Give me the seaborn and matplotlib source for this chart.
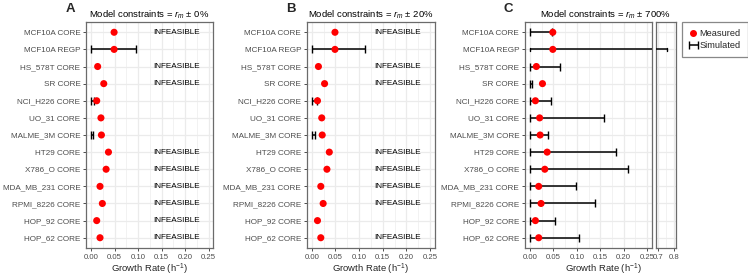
import numpy as np
import pandas as pd
import matplotlib
matplotlib.use("Agg")
import matplotlib.pyplot as plt
import seaborn as sns
from matplotlib.lines import Line2D

cells = ["MCF10A CORE", "MCF10A REGP", "HS_578T CORE", "SR CORE", "NCI_H226 CORE",
         "UO_31 CORE", "MALME_3M CORE", "HT29 CORE", "X786_O CORE", "MDA_MB_231 CORE",
         "RPMI_8226 CORE", "HOP_92 CORE", "HOP_62 CORE"]
measured = [0.049, 0.049, 0.014, 0.027, 0.012, 0.021, 0.022, 0.037, 0.032, 0.019, 0.024, 0.012, 0.019]

nan = np.nan
# simulated ranges (min, max); NaN = no range drawn
simA_lo = [nan, 0.0, nan, nan, 0.0, nan, 0.0, nan, nan, nan, nan, nan, nan]
simA_hi = [nan, 0.095, nan, nan, 0.007, nan, 0.005, nan, nan, nan, nan, nan, nan]
infA = [True, False, True, True, False, False, False, True, True, True, True, True, True]

simB_lo = [nan, 0.0, nan, nan, 0.0, nan, 0.0, nan, nan, nan, nan, nan, nan]
simB_hi = [nan, 0.113, nan, nan, 0.010, nan, 0.007, nan, nan, nan, nan, nan, nan]
infB = [True, False, True, True, False, False, False, True, True, True, True, False, True]

simC_lo = [0.0] * 13
simC_hi = [0.048, 0.755, 0.064, 0.005, 0.045, 0.159, 0.039, 0.183, 0.210, 0.099, 0.138, 0.053, 0.105]
infC = [False] * 13

titles = [r"Model constraints = $r_m$ ± 0%", r"Model constraints = $r_m$ ± 20%",
          r"Model constraints = $r_m$ ± 700%"]
panel_letters = ["A", "B", "C"]
xticks = [0.00, 0.05, 0.10, 0.15, 0.20, 0.25]
xticklabels = ["0.00", "0.05", "0.10", "0.15", "0.20", "0.25"]
break_ticks = [0.7, 0.8]
break_ticklabels = ["0.7", "0.8"]

sns.set_theme(style="white")
plt.rcParams["font.family"] = ["Liberation Sans", "DejaVu Sans"]
plt.rcParams["mathtext.fontset"] = "custom"
plt.rcParams["mathtext.rm"] = "Liberation Sans"
plt.rcParams["mathtext.it"] = "Liberation Sans:italic"

W, H = 748, 276
fig = plt.figure(figsize=(W / 100, H / 100), dpi=100)


def box(l, r, t, b):
    return [l / W, 1 - b / H, (r - l) / W, (b - t) / H]


GRID = "#EBEBEB"
BORDER = "#6b6b6b"
TICKC = "#4D4D4D"
FSY = 5.9
FSX = 5.6


def style_axes(ax, xlim, ticks, ticklabels, minor, show_y=True):
    ax.set_xlim(*xlim)
    ax.set_ylim(len(cells) - 1 + 0.6, -0.6)
    ax.set_xticks(ticks)
    ax.set_xticklabels(ticklabels, fontsize=FSX, color=TICKC)
    ax.set_xticks(minor, minor=True)
    ax.set_yticks(range(len(cells)))
    if show_y:
        ax.set_yticklabels(cells, fontsize=FSY, color=TICKC)
    else:
        ax.set_yticklabels([])
        ax.tick_params(axis="y", length=0)
    ax.set_xlabel("")
    ax.set_ylabel("")
    ax.set_axisbelow(True)
    ax.grid(True, which="major", color=GRID, linewidth=0.9)
    ax.grid(True, which="minor", axis="x", color=GRID, linewidth=0.45)
    for s in ax.spines.values():
        s.set_color(BORDER)
        s.set_linewidth(0.9)
        s.set_visible(True)
    ax.tick_params(axis="both", which="major", length=2.5, width=0.7, color=TICKC, pad=1.5,
                   bottom=True, left=show_y)
    ax.tick_params(axis="both", which="minor", length=0)


def draw_panel(ax, lo, hi, inf):
    df = pd.DataFrame({"cell": cells, "measured": measured, "lo": lo, "hi": hi, "inf": inf})
    ypos = np.arange(len(cells))
    m = ~df["lo"].isna()
    lo_a = df["lo"][m].values
    hi_a = df["hi"][m].values
    mid = (lo_a + hi_a) / 2
    ax.errorbar(mid, ypos[m.values], xerr=(hi_a - lo_a) / 2, fmt="none", ecolor="black",
                elinewidth=1.1, capsize=2.6, capthick=1.0, zorder=3)
    sns.scatterplot(x=df["measured"], y=ypos, ax=ax, color="#FF0000", s=26,
                    edgecolor="none", linewidth=0, zorder=4, legend=False)
    for i, f in enumerate(inf):
        if f:
            ax.text(0.133, i, "INFEASIBLE", fontsize=FSY, color="black", va="center", ha="left")


lefts = [(86, 213), (306.7, 434.5), (524.7, 651.7)]
sims = [(simA_lo, simA_hi, infA), (simB_lo, simB_hi, infB)]
minor = [0.025, 0.075, 0.125, 0.175, 0.225]
xlim_main = (-0.0108, 0.2595)
XLAB_Y = 269

for k in range(2):
    l, r = lefts[k]
    ax = fig.add_axes(box(l, r, 22, 248))
    draw_panel(ax, sims[k][0], sims[k][1], sims[k][2])
    style_axes(ax, xlim_main, xticks, xticklabels, minor)
    ax.set_title(titles[k], fontsize=6.8, pad=3, color="black")
    fig.text((l + r) / 2 / W, 1 - XLAB_Y / H, "Growth Rate (h$^{-1}$)", fontsize=6.8,
             ha="center", va="center")
    fig.text((l - 16) / W, 1 - 9 / H, panel_letters[k], fontsize=9.5, fontweight="bold",
             ha="center", va="center")

# Panel C main
l, r = lefts[2]
axc = fig.add_axes(box(l, r, 22, 248))
ypos = np.arange(len(cells))
cont = None
for i in range(len(cells)):
    lo, hi = simC_lo[i], simC_hi[i]
    if hi <= xlim_main[1]:
        c = axc.errorbar((lo + hi) / 2, i, xerr=(hi - lo) / 2, fmt="none", ecolor="black",
                         elinewidth=1.1, capsize=2.6, capthick=1.0, zorder=3)
        cont = c if cont is None else cont
    else:
        axc.plot([lo, xlim_main[1] + 0.01], [i, i], color="black", lw=1.1, zorder=3,
                 solid_capstyle="butt")
        axc.plot([lo, lo], [i - 0.11, i + 0.11], color="black", lw=1.0, zorder=3)
sns.scatterplot(x=measured, y=ypos, ax=axc, color="#FF0000", s=26, edgecolor="none",
                linewidth=0, zorder=4, legend=False)
style_axes(axc, xlim_main, xticks, xticklabels, minor)
axc.set_title(titles[2], fontsize=6.8, pad=3, color="black", x=(605 - l) / (r - l))
fig.text((l - 16) / W, 1 - 9 / H, panel_letters[2], fontsize=9.5, fontweight="bold",
         ha="center", va="center")

# Panel C broken part
axb = fig.add_axes(box(656.3, 675.7, 22, 248))
blim = (0.6914, 0.8104)
for i in range(len(cells)):
    lo, hi = simC_lo[i], simC_hi[i]
    if hi > blim[0]:
        axb.plot([blim[0] - 0.01, hi], [i, i], color="black", lw=1.1, zorder=3,
                 solid_capstyle="butt")
        axb.plot([hi, hi], [i - 0.11, i + 0.11], color="black", lw=1.0, zorder=3)
style_axes(axb, blim, break_ticks, break_ticklabels, [0.75], show_y=False)
fig.text(603 / W, 1 - XLAB_Y / H, "Growth Rate (h$^{-1}$)", fontsize=6.8, ha="center",
         va="center")

# Legend
handles = [Line2D([], [], marker="o", color="#FF0000", linestyle="none", markersize=4),
           cont]
leg = fig.legend(handles, ["Measured", "Simulated"], loc="upper left",
                 bbox_to_anchor=(682 / W, 1 - 22 / H), fontsize=6.7, frameon=True,
                 fancybox=False, edgecolor=BORDER, handlelength=0.9, handletextpad=0.25,
                 borderpad=0.75, labelspacing=0.35, borderaxespad=0)
leg.get_frame().set_linewidth(0.9)

fig.savefig("out.png", dpi=100)
